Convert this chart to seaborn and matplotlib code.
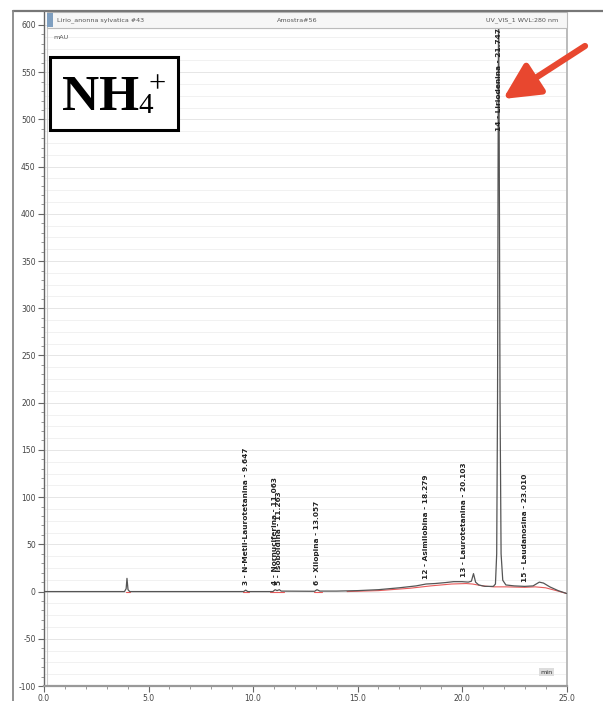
import numpy as np
import pandas as pd
import matplotlib
matplotlib.use("Agg")
import matplotlib.pyplot as plt
from matplotlib.patches import Rectangle
from matplotlib.lines import Line2D
import seaborn as sns

# ---------------- data ----------------
time_min = [0.0, 3.85, 3.93, 3.97, 4.02, 4.10, 9.55, 9.65, 9.75, 10.95, 11.06, 11.15,
            11.26, 11.35, 12.95, 13.06, 13.20, 14.0, 15.0, 16.0, 17.0, 17.8, 18.28,
            18.7, 19.2, 19.6, 20.0, 20.3, 20.45, 20.55, 20.65, 20.8, 21.1, 21.5,
            21.6, 21.66, 21.70, 21.73, 21.75, 21.78, 21.82, 21.87, 21.95, 22.1,
            22.5, 23.0, 23.4, 23.7, 23.9, 24.2, 24.6, 25.0]
signal_mau = [0.0, 0.0, 3.0, 14.0, 2.0, 0.0, 0.0, 1.5, 0.0, 0.0, 2.0, 1.0,
              2.0, 0.5, 0.3, 2.0, 0.5, 0.5, 1.0, 2.0, 4.0, 6.0, 8.0,
              8.5, 9.5, 10.5, 10.5, 10.0, 11.0, 19.0, 10.0, 7.0, 5.5, 5.5,
              8.0, 40.0, 200.0, 480.0, 625.0, 480.0, 200.0, 40.0, 12.0, 7.0,
              6.0, 5.5, 6.0, 10.0, 9.0, 5.0, 1.0, -2.0]

base_time = [3.90, 4.10, 9.50, 9.80, 10.80, 11.50, 12.90, 13.30,
             14.5, 16.0, 17.5, 18.5, 19.5, 20.2, 20.5, 21.0, 21.5, 22.1, 23.0, 23.5, 24.0, 24.6, 25.0]
base_mau = [0.0, 0.0, 0.0, 0.0, 0.0, 0.0, 0.0, 0.0,
            0.0, 1.0, 3.5, 6.0, 8.0, 8.5, 8.0, 6.0, 5.0, 5.0, 4.5, 5.0, 4.0, 0.5, -2.0]
base_seg = [0, 0, 1, 1, 2, 2, 3, 3,
            4, 4, 4, 4, 4, 4, 4, 4, 4, 4, 4, 4, 4, 4, 4]

peak_times = [9.647, 11.063, 11.263, 13.057, 18.279, 20.103, 23.010]
peak_labels = ["3 - N-Metil-Laurotetanina - 9.647",
               "4 - Nornuciferina - 11.063",
               "5 - Isoboldina - 11.263",
               "6 - Xilopina - 13.057",
               "12 - Asimilobina - 18.279",
               "13 - Laurotetanina - 20.103",
               "15 - Laudanosina - 23.010"]
main_time = 21.747
main_label = "14 - Liriodenina - 21.747"

y_ticks = [-100, -50, 0, 50, 100, 150, 200, 250, 300, 350, 400, 450, 500, 550, 600]
x_ticks = [0.0, 5.0, 10.0, 15.0, 20.0, 25.0]

header_left = "Lirio_anonna sylvatica #43"
header_mid = "Amostra#56"
header_right = "UV_VIS_1 WVL:280 nm"

# ---------------- figure ----------------
sns.set_theme(style="white")
plt.rcParams["font.family"] = ["DejaVu Sans"]

W, H = 603, 701
fig = plt.figure(figsize=(W / 100, H / 100), dpi=100)
fig.patch.set_facecolor("white")

ax_l, ax_r, ax_t, ax_b = 44, 566.5, 12, 686
ax = fig.add_axes([ax_l / W, (H - ax_b) / H, (ax_r - ax_l) / W, (ax_b - ax_t) / H])
ax.set_facecolor("white")

ymin = -100
ymax = 600 + 13 / 0.9443
ax.set_xlim(0, 25.0)
ax.set_ylim(ymin, ymax)

# faint grid
for g in np.arange(-100, 600.1, 12.5):
    ax.axhline(g, color="#f1f1f1" if g % 50 else "#e6e6e6", lw=0.7, zorder=0)

sig = pd.DataFrame({"t": time_min, "mAU": signal_mau})
sns.lineplot(data=sig, x="t", y="mAU", ax=ax, color="#555555", lw=0.9,
             sort=False, estimator=None, zorder=3)

base = pd.DataFrame({"t": base_time, "mAU": base_mau, "seg": base_seg})
sns.lineplot(data=base, x="t", y="mAU", units="seg", estimator=None, ax=ax,
             color="#e85a5a", lw=0.8, sort=False, zorder=2)

# peak labels
for t, lab in zip(peak_times, peak_labels):
    yb = np.interp(t, time_min, signal_mau) + 5
    ax.text(t, yb, lab, rotation=90, ha="center", va="bottom", fontsize=5.3,
            color="#222222", fontweight="bold", zorder=5)
ax.text(main_time, 488, main_label, rotation=90, ha="center", va="bottom",
        fontsize=5.3, color="#222222", fontweight="bold", zorder=5)

# axes styling
ax.set_xticks(x_ticks)
ax.set_xticklabels([f"{v:.1f}" for v in x_ticks])
ax.set_yticks(y_ticks)
ax.set_yticklabels([str(v) for v in y_ticks])
ax.set_xticks(np.arange(0, 25.01, 1.0), minor=True)
ax.set_yticks(np.arange(-100, 610, 10), minor=True)
ax.tick_params(axis="both", which="major", length=4, width=0.8, color="#666666",
               labelsize=5.5, labelcolor="#444444", direction="out")
ax.tick_params(axis="both", which="minor", length=2, width=0.6, color="#888888",
               direction="out")
ax.tick_params(axis="x", pad=2)
ax.tick_params(axis="y", pad=2)
ax.tick_params(left=True, bottom=True, which="both")
ax.set_xlabel("")
ax.set_ylabel("")
ax.spines["top"].set_visible(False)
ax.spines["left"].set_color("#666666")
ax.spines["left"].set_linewidth(1.0)
ax.spines["bottom"].set_color("#999999")
ax.spines["bottom"].set_linewidth(1.6)
ax.spines["right"].set_color("#bbbbbb")
ax.spines["right"].set_linewidth(1.4)

# inner frame and header strip (axes coords)
fr_x = (47 - ax_l) / (ax_r - ax_l)
fr_top = (ax_b - 28) / (ax_b - ax_t)
ax.add_patch(Rectangle((fr_x, 0), 1 - fr_x, fr_top, transform=ax.transAxes,
                       fill=False, ec="#cccccc", lw=0.8, zorder=1))
ax.add_patch(Rectangle((fr_x, fr_top), 1 - fr_x, 1 - fr_top, transform=ax.transAxes,
                       fc="#f6f6f6", ec="#bbbbbb", lw=0.8, zorder=4, clip_on=False))
ax.add_patch(Rectangle((fr_x, fr_top + 0.002), 0.012, 1 - fr_top - 0.004,
                       transform=ax.transAxes, fc="#7f9fc0", ec="none", zorder=5))
hy = (fr_top + 1) / 2
ax.text(fr_x + 0.02, hy, header_left, transform=ax.transAxes, fontsize=4.6,
        color="#555555", va="center", ha="left", zorder=6)
ax.text(0.485, hy, header_mid, transform=ax.transAxes, fontsize=4.6,
        color="#555555", va="center", ha="center", zorder=6)
ax.text(0.985, hy, header_right, transform=ax.transAxes, fontsize=4.6,
        color="#555555", va="center", ha="right", zorder=6)
ax.text(fr_x + 0.012, fr_top - 0.014, "mAU", transform=ax.transAxes, fontsize=4.6,
        color="#555555", va="center", ha="left", zorder=6)
ax.text(0.962, (ax_b - 672) / (ax_b - ax_t), "min", transform=ax.transAxes,
        fontsize=4.6, color="#333333", va="center", ha="center", zorder=6,
        bbox=dict(boxstyle="square,pad=0.2", fc="#dddddd", ec="none"))

# outer border lines of the screenshot
fig.add_artist(Line2D([13 / W, 1.0], [(H - 11) / H, (H - 11) / H],
                      transform=fig.transFigure, color="#777777", lw=1.6))
fig.add_artist(Line2D([13 / W, 13 / W], [0, (H - 11) / H],
                      transform=fig.transFigure, color="#888888", lw=1.3))

# NH4+ box
fig.add_artist(Rectangle((50 / W, (H - 130) / H), 128 / W, 73 / H,
                         transform=fig.transFigure, fc="white", ec="black",
                         lw=2.2, zorder=10))
serif = ["Liberation Serif", "DejaVu Serif"]
t_nh = fig.text(62 / W, (H - 110) / H, "NH", fontsize=37, fontweight="bold",
                family=serif, ha="left", va="baseline", color="black", zorder=11)
renderer = fig.canvas.get_renderer()
nh_right = t_nh.get_window_extent(renderer).x1
fig.text((nh_right - 1) / W, (H - 113) / H, "4", fontsize=21, family=serif,
         ha="left", va="baseline", color="black", zorder=11)
fig.text((nh_right + 9) / W, (H - 92) / H, "+", fontsize=22, family=serif,
         ha="left", va="baseline", color="black", zorder=11)

# red arrow
ax.annotate("", xy=(503, H - 99), xycoords="figure pixels",
            xytext=(585, H - 46), textcoords="figure pixels",
            arrowprops=dict(arrowstyle="-|>,head_length=1.1,head_width=0.55",
                            mutation_scale=20, color="#e8472f", lw=4.5,
                            shrinkA=0, shrinkB=0), zorder=12)

fig.savefig("out.png", dpi=100, facecolor="white")
